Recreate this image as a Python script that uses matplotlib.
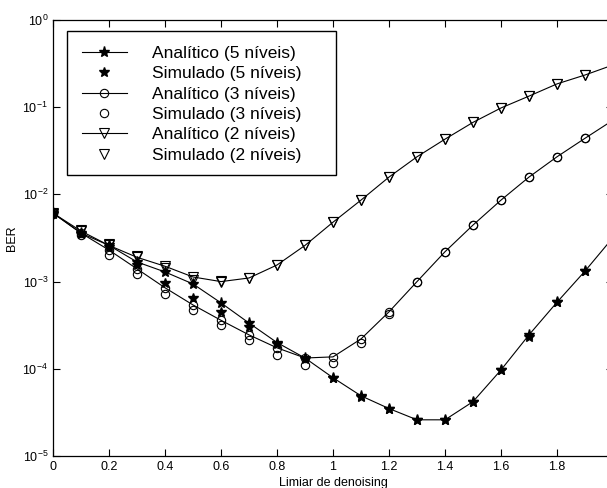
import matplotlib
matplotlib.use('Agg')
import matplotlib.pyplot as plt
import matplotlib.ticker as ticker
from matplotlib.patches import Rectangle
import numpy as np

plt.rcParams['font.family'] = ['Liberation Sans', 'DejaVu Sans']
plt.rcParams['mathtext.fontset'] = 'custom'
plt.rcParams['mathtext.rm'] = 'Liberation Sans'

# limiar de denoising
limiar = [0.0, 0.1, 0.2, 0.3, 0.4, 0.5, 0.6, 0.7, 0.8, 0.9, 1.0,
          1.1, 1.2, 1.3, 1.4, 1.5, 1.6, 1.7, 1.8, 1.9, 2.0]

# 5 niveis
ana5 = [6.1e-3, 3.6e-3, 2.6e-3, 1.68e-3, 1.29e-3, 9.4e-4, 5.7e-4, 3.35e-4, 2.0e-4, 1.33e-4, 7.9e-5,
        4.9e-5, 3.5e-5, 2.6e-5, 2.6e-5, 4.2e-5, 9.7e-5, 2.45e-4, 5.8e-4, 1.32e-3, 3.2e-3]
sim5 = [6.0e-3, 3.5e-3, 2.5e-3, 1.55e-3, 9.6e-4, 6.5e-4, 4.5e-4, 3.0e-4, 1.9e-4, 1.3e-4, 7.8e-5,
        4.8e-5, 3.5e-5, 2.6e-5, 2.6e-5, 4.2e-5, 9.6e-5, 2.3e-4, 5.8e-4, 1.33e-3, 3.2e-3]

# 3 niveis
ana3 = [6.1e-3, 3.6e-3, 2.3e-3, 1.4e-3, 8.5e-4, 5.4e-4, 3.6e-4, 2.45e-4, 1.74e-4, 1.33e-4, 1.37e-4,
        2.2e-4, 4.5e-4, 1.0e-3, 2.2e-3, 4.45e-3, 8.6e-3, 1.58e-2, 2.7e-2, 4.4e-2, 7.1e-2]
sim3 = [6.0e-3, 3.4e-3, 2.0e-3, 1.23e-3, 7.2e-4, 4.7e-4, 3.2e-4, 2.14e-4, 1.44e-4, 1.11e-4, 1.17e-4,
        2.0e-4, 4.3e-4, 1.0e-3, 2.2e-3, 4.5e-3, 8.6e-3, 1.58e-2, 2.7e-2, 4.4e-2, 7.0e-2]

# 2 niveis
ana2 = [6.1e-3, 3.8e-3, 2.6e-3, 1.9e-3, 1.5e-3, 1.13e-3, 1.0e-3, 1.1e-3, 1.55e-3, 2.6e-3, 4.8e-3,
        8.6e-3, 1.58e-2, 2.7e-2, 4.3e-2, 6.7e-2, 9.8e-2, 0.134, 0.185, 0.234, 0.305]
sim2 = [6.0e-3, 3.9e-3, 2.7e-3, 1.95e-3, 1.45e-3, 1.05e-3, 1.02e-3, 1.1e-3, 1.55e-3, 2.6e-3, 4.8e-3,
        8.7e-3, 1.58e-2, 2.7e-2, 4.3e-2, 6.8e-2, 9.8e-2, 0.134, 0.185, 0.234, 0.305]

labels = ['Analítico (5 níveis)', 'Simulado (5 níveis)',
          'Analítico (3 níveis)', 'Simulado (3 níveis)',
          'Analítico (2 níveis)', 'Simulado (2 níveis)']

fig = plt.figure(figsize=(6.07, 4.88), dpi=100)
ax = fig.add_axes([53 / 607, 32 / 488, 560 / 607, 436 / 488])

lw = 0.8
ax.semilogy(limiar, ana5, 'k-', marker='*', ms=8, lw=lw, label=labels[0])
ax.semilogy(limiar, sim5, 'k', ls='none', marker='*', ms=7, label=labels[1])
ax.semilogy(limiar, ana3, 'k-', marker='o', ms=6, mfc='none', mew=0.8, lw=lw, label=labels[2])
ax.semilogy(limiar, sim3, 'k', ls='none', marker='o', ms=6, mfc='none', mew=0.8, label=labels[3])
ax.semilogy(limiar, ana2, 'k-', marker='v', ms=6.5, mfc='none', mew=0.8, lw=lw, label=labels[4])
ax.semilogy(limiar, sim2, 'k', ls='none', marker='v', ms=6.5, mfc='none', mew=0.8, label=labels[5])

ax.set_xlim(0, 2)
ax.set_ylim(1e-5, 1)
ax.xaxis.set_ticks(np.arange(0, 2.01, 0.2))
ax.xaxis.set_major_formatter(ticker.FormatStrFormatter('%g'))
ax.yaxis.set_minor_locator(ticker.NullLocator())
ax.tick_params(which='both', direction='in', top=True, right=True, length=5,
               width=0.8, labelsize=9)
for s in ax.spines.values():
    s.set_linewidth(0.9)

ax.set_xlabel('Limiar de denoising', fontsize=9, labelpad=3)
ax.set_ylabel('BER', fontsize=9, labelpad=3)

# caixa da legenda
x0, x1 = (67 - 53) / 560, (336 - 53) / 560
y0, y1 = (456 - 175) / 436, (456 - 31) / 436
ax.add_patch(Rectangle((x0, y0), x1 - x0, y1 - y0, transform=ax.transAxes,
                       facecolor='white', edgecolor='black', lw=1.0, zorder=5))
leg = ax.legend(loc='upper left', bbox_to_anchor=(x0, y1), borderaxespad=0,
                frameon=False, fontsize=12.5, numpoints=1, handlelength=2.6,
                handletextpad=1.45, labelspacing=0.3, borderpad=0.85)
leg.set_zorder(6)

fig.savefig('out.png', dpi=100)
